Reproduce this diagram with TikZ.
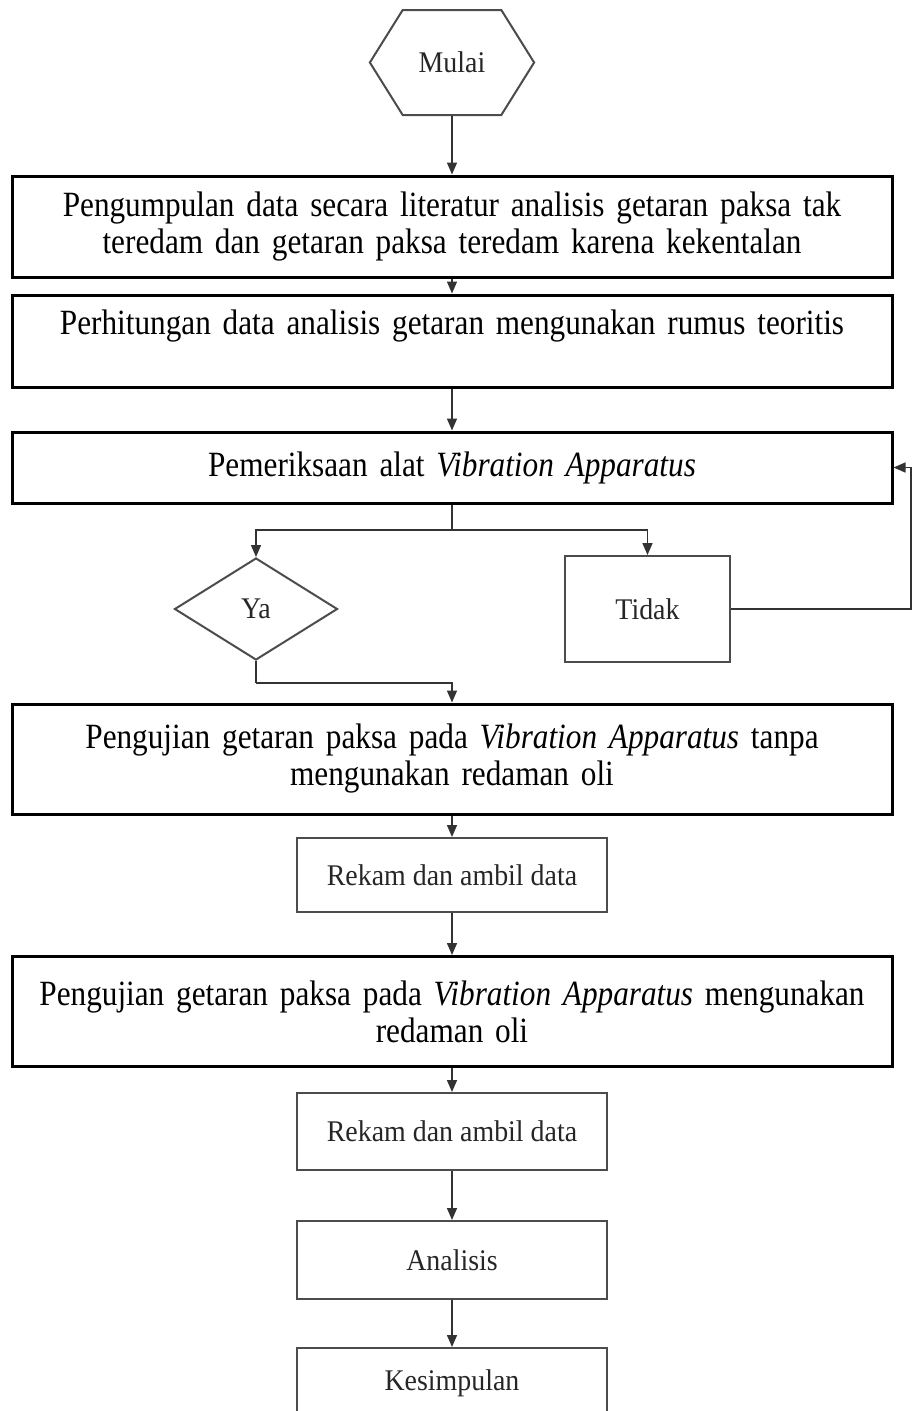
\documentclass[tikz,border=0pt]{standalone}
\usepackage{fontspec}
\setmainfont{Liberation Serif}
\newfontfamily\bigserif[FakeStretch=0.88]{Liberation Serif}
\newfontfamily\smallserif[FakeStretch=0.93]{Liberation Serif}
\usetikzlibrary{shapes.geometric,shapes.symbols,arrows.meta}

\begin{document}
\begin{tikzpicture}[x=1pt,y=-1pt,
    bigbox/.style={draw=black, line width=3pt, minimum width=880pt, text width=878pt, align=center, inner sep=0pt, font=\bigserif\fontsize{35.5}{37}\selectfont},
    smallbox/.style={draw=black!70, line width=2pt, minimum width=310pt, text=black!85, font=\smallserif\fontsize{30}{34}\selectfont},
    startnode/.style={signal, signal to=east and west, signal pointer angle=116, draw=black!70, line width=2pt, minimum width=163pt, minimum height=105pt, inner xsep=16pt, text=black!85, font=\smallserif\fontsize{30}{34}\selectfont},
    decide/.style={diamond, draw=black!70, line width=2pt, minimum width=163pt, minimum height=102pt, inner sep=0pt, text=black!85, font=\smallserif\fontsize{30}{34}\selectfont},
    arrow/.style={draw=black!80, line width=1.5pt, -{Triangle[length=12pt,width=10pt]}},
    line/.style={draw=black!80, line width=1.5pt}]
    \useasboundingbox (0,0) rectangle (912,1411);

\node[startnode] (mulai) at (452,62.5) {Mulai};
\node[bigbox, minimum height=101pt] (lit) at (452,226.5) {Pengumpulan data secara literatur analisis getaran paksa tak\\ teredam dan getaran paksa teredam karena kekentalan};
\node[bigbox, minimum height=92pt] (hitung) at (452,341) {Perhitungan data analisis getaran mengunakan rumus teoritis\\ ~};
\node[bigbox, minimum height=71pt] (check) at (452,467.5) {Pemeriksaan alat \textit{Vibration Apparatus}};

\coordinate (split) at (452,530);
\node[decide] (ya) at (256,609) {Ya};
\node[smallbox, minimum width=165pt, minimum height=106pt] (tidak) at (647.5,609) {Tidak};
\coordinate (back) at (911,609);
\coordinate (join) at (256,683);

\node[bigbox, minimum height=110pt] (uji1) at (452,759) {Pengujian getaran paksa pada \textit{Vibration Apparatus} tanpa\\ mengunakan redaman oli};
\node[smallbox, minimum height=74pt] (rekam1) at (452,875) {Rekam dan ambil data};
\node[bigbox, minimum height=110pt] (uji2) at (452,1011.5) {Pengujian getaran paksa pada \textit{Vibration Apparatus} mengunakan\\ redaman oli};
\node[smallbox, minimum height=77pt] (rekam2) at (452,1131.5) {Rekam dan ambil data};
\node[smallbox, minimum height=78pt] (analisis) at (452,1260) {Analisis};
\node[smallbox, minimum height=70pt] (simpul) at (452,1383) {Kesimpulan};

\draw[arrow] (mulai) -- (lit);
\draw[arrow] (lit) -- (hitung);
\draw[arrow] (hitung) -- (check);
\draw[line] (check) -- (split);
\draw[arrow] (split) -| (ya.north);
\draw[arrow] (split) -| (tidak.north);
\draw[arrow] (tidak) -- (back) |- (check.east);
\draw[line] (ya) -- (join);
\draw[arrow] (join) -| (uji1.north);
\draw[arrow] (uji1) -- (rekam1);
\draw[arrow] (rekam1) -- (uji2);
\draw[arrow] (uji2) -- (rekam2);
\draw[arrow] (rekam2) -- (analisis);
\draw[arrow] (analisis) -- (simpul);

\end{tikzpicture}
\end{document}
